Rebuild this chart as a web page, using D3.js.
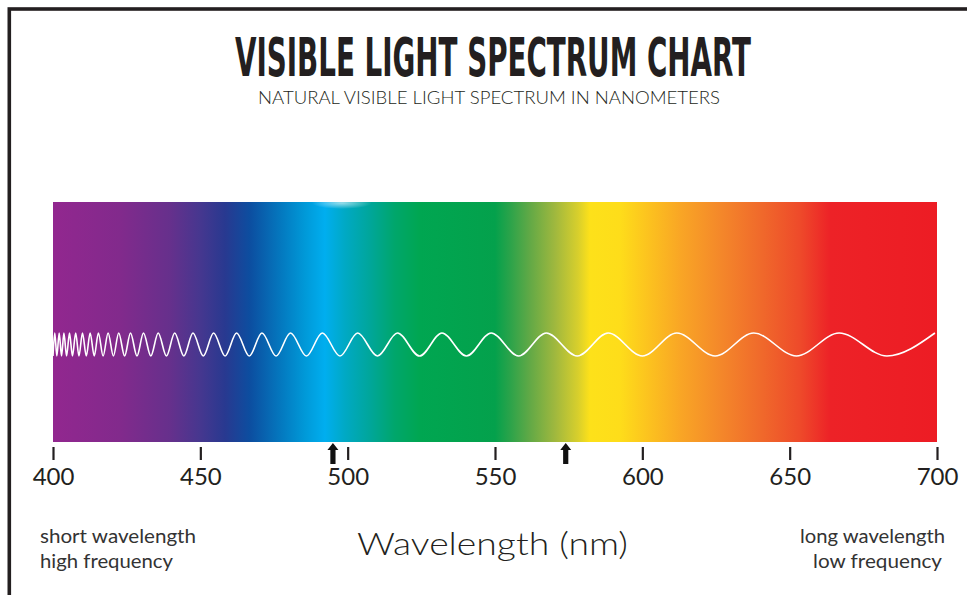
<!DOCTYPE html>
<html><head><meta charset="utf-8">
<script src="https://cdn.jsdelivr.net/npm/d3@7"></script>
<style>html,body{margin:0;padding:0;background:#fff;overflow:hidden}</style>
</head><body>
<svg id="c" width="967" height="595"></svg>
<script>
const titleText = "VISIBLE LIGHT SPECTRUM CHART";
const subtitleText = "NATURAL VISIBLE LIGHT SPECTRUM IN NANOMETERS";
const axisTitle = "Wavelength (nm)";
const leftLabels = ["short wavelength", "high frequency"];
const rightLabels = ["long wavelength", "low frequency"];
const tickValues = [400, 450, 500, 550, 600, 650, 700];
const arrowNm = [495, 574];

// spectrum colour stops (wavelength, colour)
const stopNm = [400, 422.7, 439.7, 449.9, 458.4, 466.9, 477, 485.5, 492.3, 499, 507.6, 516, 524.5, 550, 555, 561.9, 570.4, 578.2, 582.2, 592.4, 602.6, 612.8, 626.4, 640, 653.5, 663.7, 700];
const stopColor = ["#92278f", "#822a8c", "#66308c", "#46378f", "#283990", "#0c4ea0", "#0477be", "#0099d8", "#00aeef", "#00a9c5", "#00a69a", "#00a66b", "#00a651", "#04a14c", "#2aa34a", "#62a946", "#a0b83e", "#d8cf2c", "#fde11a", "#fedd1a", "#fcc11f", "#f9a625", "#f4882a", "#f06a2b", "#ee4a2a", "#ed2227", "#ed1c24"];

// wave crests and troughs (nm)
const crestNm = [400.6, 402.1, 403.7, 405.6, 407.7, 410.0, 412.6, 415.4, 418.7, 422.3, 426.3, 430.7, 435.7, 441.3, 447.5, 454.5, 462.3, 470.9, 480.6, 491.4, 503.4, 516.9, 532.0, 548.7, 567.4, 588.4, 611.7, 637.8, 666.8, 699.3];
const troughNm = [400.0, 401.3, 402.9, 404.6, 406.6, 408.8, 411.3, 414.0, 417.0, 420.5, 424.3, 428.5, 433.2, 438.5, 444.4, 451.0, 458.4, 466.6, 475.7, 486.0, 497.4, 510.1, 524.4, 540.3, 558.0, 577.9, 600.0, 624.7, 652.3, 683.0];

const svg = d3.select("#c");
const x = d3.scaleLinear().domain([400, 700]).range([53, 937]);
const yWave = d3.scaleLinear().domain([-1, 1]).range([356, 333]);
const barTop = 202, barBottom = 442;

// frame
svg.append("rect").attr("x", 9.3).attr("y", 9).attr("width", 1200).attr("height", 1200)
  .attr("fill", "none").attr("stroke", "#231f20").attr("stroke-width", 3.6);

// title (condensed by horizontal scaling)
const tg = svg.append("g");
const tt = tg.append("text").text(titleText)
  .attr("x", 0).attr("y", 0)
  .style("font-family", "'Liberation Sans Narrow','DejaVu Sans Condensed','Liberation Sans',sans-serif")
  .style("font-weight", "bold").style("font-size", "53px").attr("fill", "#231f20");
const tw = tt.node().getComputedTextLength();
tg.attr("transform", `translate(235,75.5) scale(${516 / tw},1)`);

svg.append("text").text(subtitleText)
  .attr("x", 258).attr("y", 104)
  .attr("textLength", 462).attr("lengthAdjust", "spacingAndGlyphs")
  .style("font-family", "Lato,'Open Sans',sans-serif")
  .style("font-weight", 300).style("font-size", "17.5px").attr("fill", "#231f20");

// gradient
const defs = svg.append("defs");
const grad = defs.append("linearGradient").attr("id", "spec")
  .attr("gradientUnits", "userSpaceOnUse")
  .attr("x1", x(400)).attr("x2", x(700)).attr("y1", 0).attr("y2", 0);
grad.selectAll("stop").data(stopNm).join("stop")
  .attr("offset", d => (x(d) - x(400)) / (x(700) - x(400)))
  .attr("stop-color", (d, i) => stopColor[i]);

const glow = defs.append("radialGradient").attr("id", "glow");
glow.append("stop").attr("offset", 0).attr("stop-color", "#fff").attr("stop-opacity", 0.6);
glow.append("stop").attr("offset", 1).attr("stop-color", "#fff").attr("stop-opacity", 0);

svg.append("rect")
  .attr("x", x(400)).attr("y", barTop)
  .attr("width", x(700) - x(400)).attr("height", barBottom - barTop)
  .attr("fill", "url(#spec)");

svg.append("ellipse").attr("cx", x(498)).attr("cy", barTop + 1)
  .attr("rx", 30).attr("ry", 6).attr("fill", "url(#glow)");

// wave
const pts = crestNm.map(d => [d, 1]).concat(troughNm.map(d => [d, -1]))
  .sort((a, b) => a[0] - b[0]);
svg.append("path")
  .attr("d", d3.line().x(d => x(d[0])).y(d => yWave(d[1])).curve(d3.curveMonotoneX)(pts))
  .attr("fill", "none").attr("stroke", "#fff").attr("stroke-width", 1.6);

// axis
const ax = svg.append("g").attr("transform", "translate(0,447)")
  .call(d3.axisBottom(x).tickValues(tickValues).tickSize(13).tickPadding(8).tickFormat(d3.format("d")));
ax.select(".domain").remove();
ax.selectAll(".tick line").attr("stroke", "#231f20").attr("stroke-width", 2.2);
ax.selectAll(".tick text").attr("fill", "#231f20")
  .style("font-family", "Lato,'Open Sans',sans-serif").style("font-size", "24px");

// arrows
svg.selectAll("path.arrow").data(arrowNm).join("path").attr("class", "arrow")
  .attr("d", d => {
    const c = x(d);
    return `M${c},443 L${c + 5.5},450 L${c + 2.6},450 L${c + 2.6},464 L${c - 2.6},464 L${c - 2.6},450 L${c - 5.5},450 Z`;
  })
  .attr("fill", "#111");

// axis title
svg.append("text").text(axisTitle)
  .attr("x", 357).attr("y", 555)
  .attr("textLength", 271).attr("lengthAdjust", "spacingAndGlyphs")
  .style("font-family", "Lato,'Open Sans',sans-serif")
  .style("font-weight", 300).style("font-size", "31px").attr("fill", "#231f20");

// side labels
const lw = [156, 133], rw = [145, 129];
svg.selectAll("text.left").data(leftLabels).join("text").attr("class", "left")
  .text(d => d).attr("x", 40).attr("y", (d, i) => 543 + i * 25)
  .attr("textLength", (d, i) => lw[i]).attr("lengthAdjust", "spacingAndGlyphs")
  .style("font-family", "Lato,'Open Sans',sans-serif").style("font-size", "19.5px").attr("fill", "#333");
svg.selectAll("text.right").data(rightLabels).join("text").attr("class", "right")
  .text(d => d).attr("x", (d, i) => [800, 813][i]).attr("y", (d, i) => 543 + i * 25)
  .attr("textLength", (d, i) => rw[i]).attr("lengthAdjust", "spacingAndGlyphs")
  .style("font-family", "Lato,'Open Sans',sans-serif").style("font-size", "19.5px").attr("fill", "#333");
</script>
</body></html>
